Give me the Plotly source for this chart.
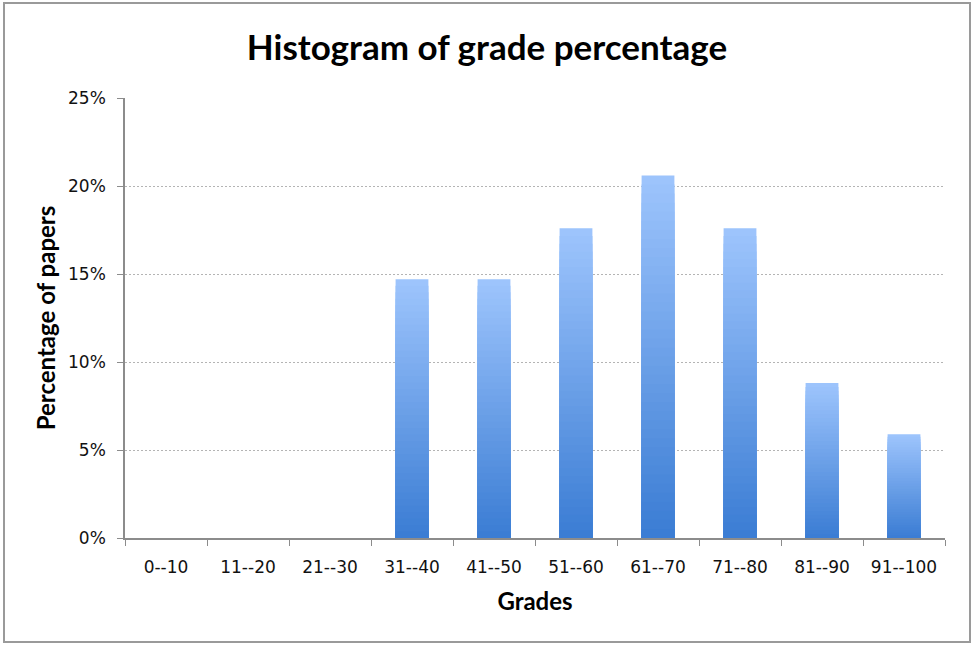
import plotly.graph_objects as go

grades = ['0--10', '11--20', '21--30', '31--40', '41--50', '51--60',
          '61--70', '71--80', '81--90', '91--100']
share = [0, 0, 0, 0.147, 0.147, 0.176, 0.206, 0.176, 0.088, 0.059]

light = (158, 197, 253)
dark = (58, 124, 211)
steps = 40

fig = go.Figure()
# fake a vertical gradient: stacked overlay bars, each shorter and darker
for k in range(steps):
    f = (steps - k) / steps
    t = (steps - k - 0.5) / steps
    col = tuple(round(d + (l - d) * t) for l, d in zip(light, dark))
    fig.add_trace(go.Bar(x=grades, y=[v * f for v in share],
                         marker=dict(color='rgb(%d,%d,%d)' % col, line=dict(width=0)),
                         width=0.4, hoverinfo='skip', showlegend=False))

fig.update_layout(
    width=974, height=647,
    barmode='overlay',
    plot_bgcolor='white', paper_bgcolor='white',
    margin=dict(l=125, r=29, t=98, b=109),
    font=dict(family='DejaVu Sans', size=17, color='#111'),
    title=dict(text='<b>Histogram of grade percentage</b>', x=0.5, xanchor='center',
               y=1 - 48 / 647, yanchor='middle', yref='container',
               font=dict(family='Lato', size=35, color='black')),
    shapes=[dict(type='rect', xref='paper', yref='paper', layer='below',
                 x0=-121 / 820, x1=1 + 25 / 820, y0=-104 / 440, y1=1 + 95 / 440,
                 line=dict(color='#9a9a9a', width=2))],
)
fig.update_xaxes(type='category', showline=True, linecolor='#8c8c8c', linewidth=1.5,
                 ticks='outside', tickson='boundaries', ticklen=6, tickcolor='#8c8c8c',
                 showgrid=False, tickfont=dict(family='DejaVu Sans', size=17),
                 ticklabelstandoff=13,
                 title=dict(text='<b>Grades</b>', standoff=17,
                            font=dict(family='Lato', size=24, color='black')))
fig.update_yaxes(range=[0, 0.25], dtick=0.05, tickformat='.0%', showline=True,
                 linecolor='#8c8c8c', linewidth=1.5, ticks='outside', ticklen=6,
                 tickcolor='#8c8c8c', showgrid=True, gridcolor='#b4b4b4',
                 griddash='2px,2px', gridwidth=1.2, zeroline=False,
                 tickfont=dict(family='DejaVu Sans', size=17), ticklabelstandoff=8,
                 title=dict(text='<b>Percentage of papers</b>', standoff=6,
                            font=dict(family='Lato', size=24, color='black')))

fig.write_html('out.html', config={'displayModeBar': False},
               post_script="document.body.style.margin='0';")
